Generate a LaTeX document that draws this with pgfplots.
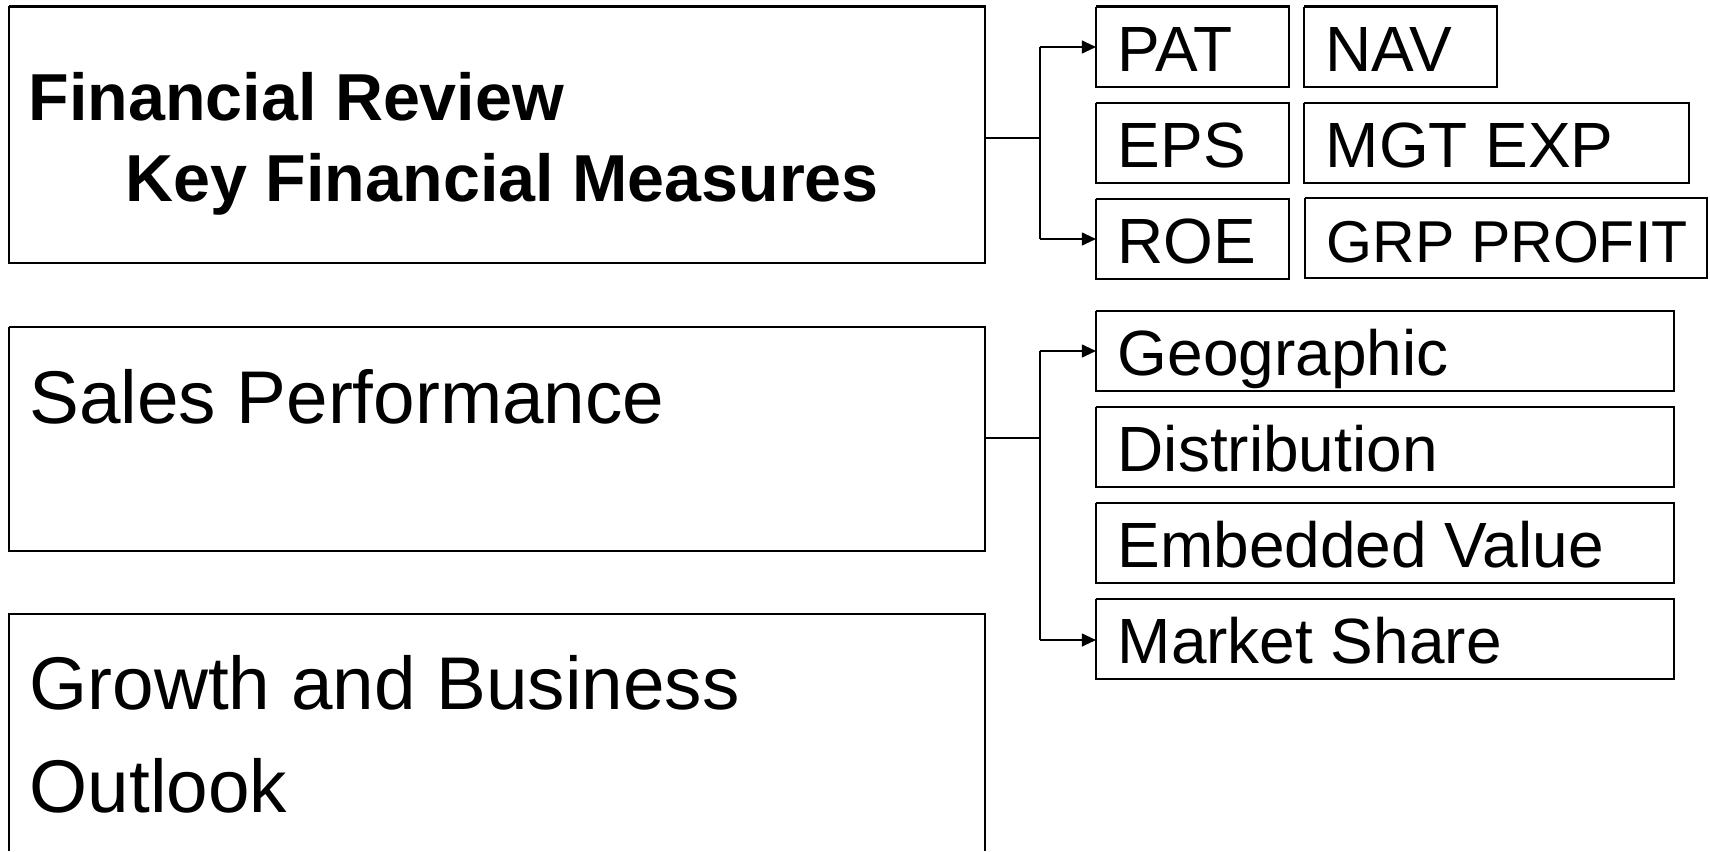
\documentclass[border=0pt]{standalone}
\usepackage{fontspec}
\setmainfont{Liberation Sans}
\usepackage{pgfplots}
\pgfplotsset{compat=1.18}
\usetikzlibrary{arrows.meta}

% box outlines in pixel units (x right, y down), nan breaks between boxes
\pgfplotstableread{
x y
9 6.5
985 6.5
985 263
9 263
9 6.5
nan nan
9 327
985 327
985 551
9 551
9 327
nan nan
9 851
9 614
985 614
985 851
nan nan
1096 6.7
1289 6.7
1289 87
1096 87
1096 6.7
nan nan
1304 6.7
1497 6.7
1497 87
1304 87
1304 6.7
nan nan
1096 103
1289 103
1289 183
1096 183
1096 103
nan nan
1304 103
1689 103
1689 183
1304 183
1304 103
nan nan
1096 199
1289 199
1289 279
1096 279
1096 199
nan nan
1305 198
1707 198
1707 278
1305 278
1305 198
nan nan
1096 311
1674 311
1674 391
1096 391
1096 311
nan nan
1096 407
1674 407
1674 487
1096 487
1096 407
nan nan
1096 503
1674 503
1674 583
1096 583
1096 503
nan nan
1096 599
1674 599
1674 679
1096 679
1096 599
}\boxes

\begin{document}
\begin{tikzpicture}
\begin{axis}[
    name=ax,
    width=17.1cm, height=8.51cm, scale only axis,
    xmin=0, xmax=1710, ymin=0, ymax=851,
    y dir=reverse,
    hide axis, clip=false,
    unbounded coords=jump,
]
\addplot[black, line width=0.8pt, mark=none, line join=miter] table {\boxes};

% connectors
\addplot[black, line width=0.6pt, mark=none] coordinates {(985,138) (1040,138)};
\addplot[black, line width=0.6pt, mark=none] coordinates {(1040,47) (1040,239)};
\addplot[black, line width=0.6pt, mark=none, -{Triangle[length=4pt,width=3.6pt]}] coordinates {(1040,47) (1096,47)};
\addplot[black, line width=0.6pt, mark=none, -{Triangle[length=4pt,width=3.6pt]}] coordinates {(1040,239) (1096,239)};
\addplot[black, line width=0.6pt, mark=none] coordinates {(985,438) (1040,438)};
\addplot[black, line width=0.6pt, mark=none] coordinates {(1040,351) (1040,640)};
\addplot[black, line width=0.6pt, mark=none, -{Triangle[length=4pt,width=3.6pt]}] coordinates {(1040,351) (1096,351)};
\addplot[black, line width=0.6pt, mark=none, -{Triangle[length=4pt,width=3.6pt]}] coordinates {(1040,640) (1096,640)};

\begin{scope}[every node/.style={anchor=base west, inner sep=0pt}]
\node[font=\fontsize{18.9}{20}\selectfont\bfseries] at (axis cs:28,120) {Financial Review};
\node[font=\fontsize{18.9}{20}\selectfont\bfseries] at (axis cs:125,201.5) {Key Financial Measures};
\node[font=\fontsize{21.25}{24}\selectfont] at (axis cs:28.5,423) {Sales Performance};
\node[font=\fontsize{21.25}{24}\selectfont] at (axis cs:29,709) {Growth and Business};
\node[font=\fontsize{21.25}{24}\selectfont] at (axis cs:29,812) {Outlook};
\node[font=\fontsize{18.2}{20}\selectfont] at (axis cs:1117,71.7) {PAT};
\node[font=\fontsize{18.2}{20}\selectfont] at (axis cs:1325,71.7) {NAV};
\node[font=\fontsize{18.2}{20}\selectfont] at (axis cs:1117,167.5) {EPS};
\node[font=\fontsize{18.2}{20}\selectfont] at (axis cs:1325,167.5) {MGT EXP};
\node[font=\fontsize{18.2}{20}\selectfont] at (axis cs:1117,263.5) {ROE};
\node[font=\fontsize{16.8}{20}\selectfont] at (axis cs:1326,262) {GRP PROFIT};
\node[font=\fontsize{18.2}{20}\selectfont] at (axis cs:1117,375) {Geographic};
\node[font=\fontsize{18.2}{20}\selectfont] at (axis cs:1117,471) {Distribution};
\node[font=\fontsize{18.2}{20}\selectfont] at (axis cs:1117,567) {Embedded Value};
\node[font=\fontsize{18.2}{20}\selectfont] at (axis cs:1117,663) {Market Share};
\end{scope}
\end{axis}
\pgfresetboundingbox
\path (ax.south west) rectangle (ax.north east);
\end{tikzpicture}
\end{document}
